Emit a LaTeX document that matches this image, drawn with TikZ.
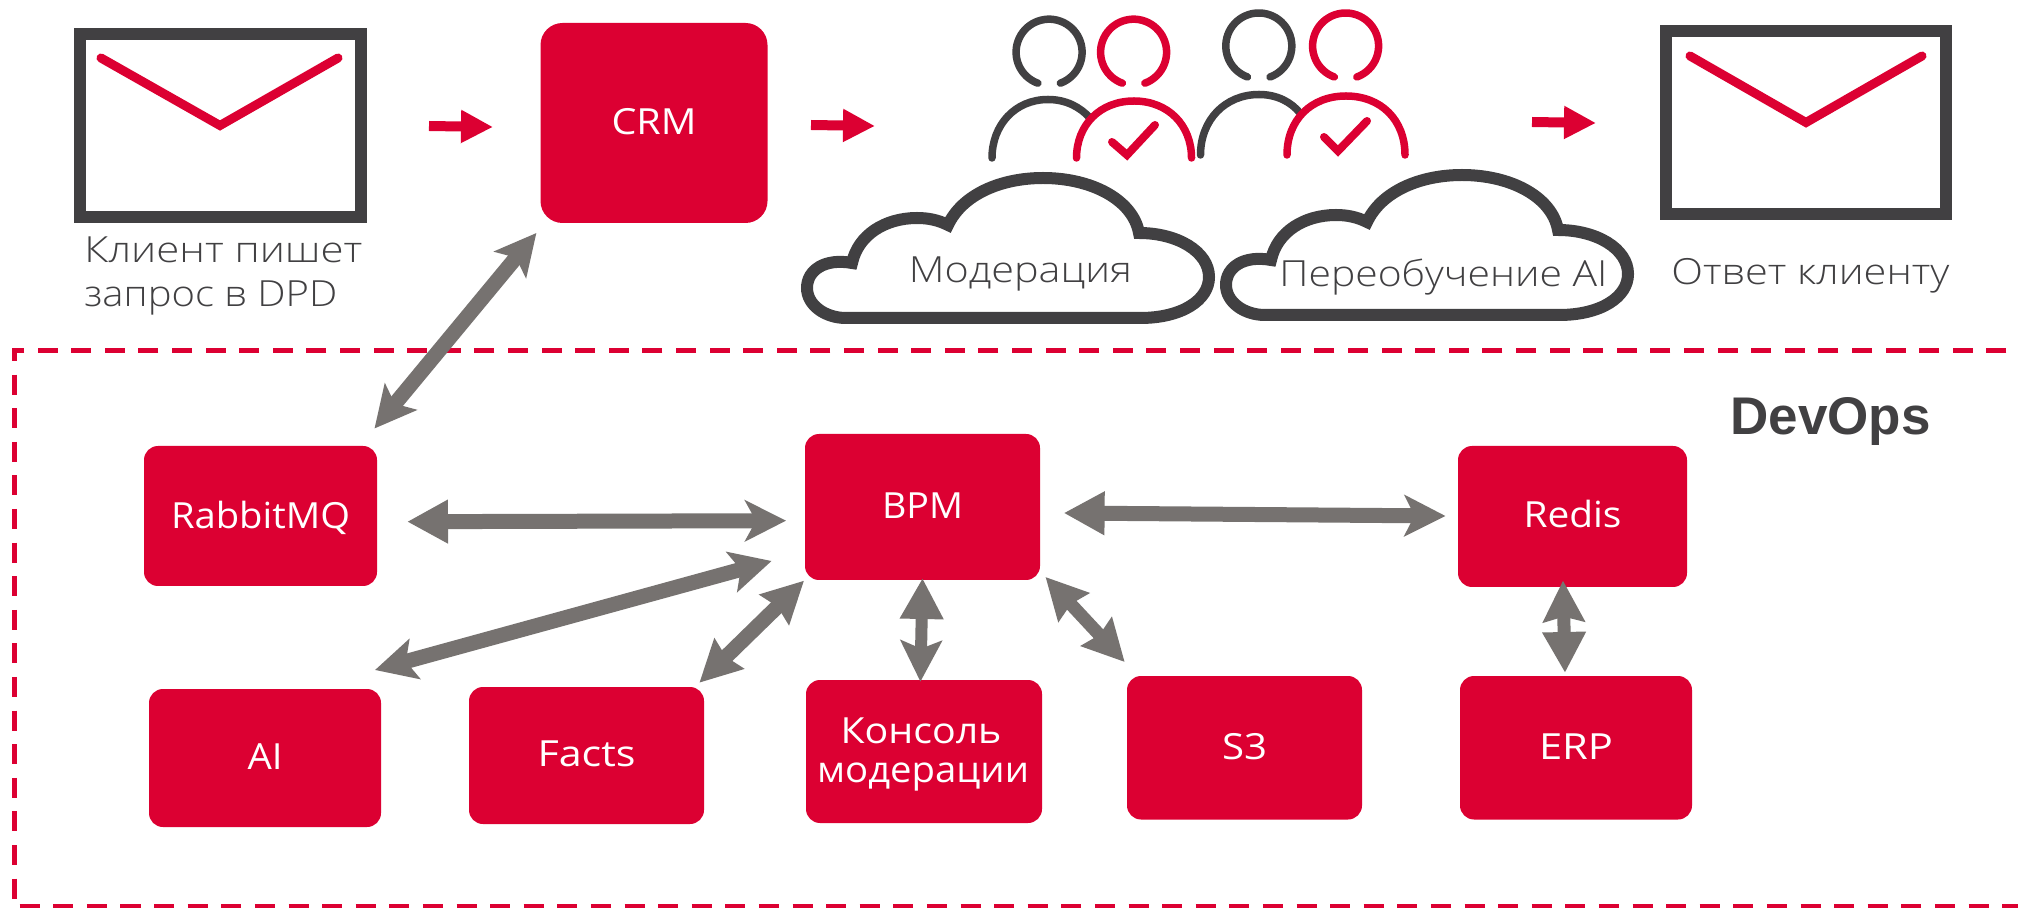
\documentclass[tikz,border=0pt]{standalone}
\usepackage{fontspec}
\usepackage{graphicx}
\setmainfont{Open Sans}
\newfontfamily\lightfont{Open Sans Light}
\newfontfamily\boldfont{Liberation Sans Bold}
\usetikzlibrary{arrows.meta}
\definecolor{dpdred}{HTML}{DC0032}
\definecolor{dpddark}{HTML}{414042}
\definecolor{dpdgrey}{HTML}{767270}
\newbox\fitbox
\newdimen\fitdim
\newcommand\fitw[2]{\setbox\fitbox\hbox{#2}\fitdim=\wd\fitbox\pgfmathsetmacro\fitr{(#1*0.5)/(\fitdim/1pt)}\scalebox{\fitr}[1]{\box\fitbox}}
\tikzset{
  redbox/.style={fill=dpdred,draw=none,rounded corners=7pt,inner sep=0pt,text=white,text height=0pt,text depth=0pt,font=\fontsize{18}{20}\selectfont},
  darktext/.style={anchor=base west,inner sep=0pt,text=dpddark,font=\lightfont\fontsize{18}{20}\selectfont},
  envelope/.style={draw=dpddark,line width=6pt,inner sep=0pt},
  flap/.style={draw=dpdred,line width=4.5pt,line cap=round,line join=miter},
  tick/.style={draw=dpdred,line width=4pt,line cap=round,line join=miter},
  redarrow/.style={draw=dpdred,line width=5pt,-{Triangle[length=16pt,width=15.5pt]}},
  dbl/.style n args={2}{draw=dpdgrey,line width=7.5pt,arrows={Stealth[length=20.5pt,width=20.5pt,inset=#1]-Stealth[length=20.5pt,width=20.5pt,inset=#2]}},
  head/.style={line width=3.75pt,line cap=round},
  bodyline/.style={line width=3.75pt,line cap=round},
  cloudline/.style={draw=dpddark,line width=6pt,line join=miter,fill=white},
  frame/.style={draw=dpdred,line width=2.5pt,dash pattern=on 10pt off 6.8pt}
}
\newcommand\rbox[9][]{\pgfmathsetmacro\rr{((#3+#5)/2-#6)/2-0.75}\node[redbox,#1,minimum width={(#4-#2)*0.5pt},minimum height={(#5-#3)*0.5pt}] (#9) at ({(#2+#4)/2},{(#3+#5)/2}) {\raisebox{\rr pt}{\makebox[0pt]{\fitw{#7}{#8}}}};}
\newcommand\headarc[4]{\draw[head,draw=#4] ({#1-11.5},{#2+#3}) arc[start angle=250,end angle=-70,radius=16.5pt];}
\newcommand\cloudpath{(846,318) -- (1140,318)
  .. controls (1182,318) and (1209,300) .. (1209,277)
  .. controls (1209,252) and (1178,233) .. (1139,233)
  .. controls (1133,200) and (1092,178) .. (1043,178)
  .. controls (1000,178) and (962,195) .. (948,225)
  .. controls (938,220) and (928,218) .. (917,218)
  .. controls (885,218) and (858,235) .. (852,263)
  .. controls (825,258) and (807,270) .. (807,288)
  .. controls (807,305) and (825,318) .. (846,318) -- cycle}
\begin{document}
\begin{tikzpicture}[x=0.5pt,y=-0.5pt]
\useasboundingbox (0,0) rectangle (2018,908);
\clip (0,0) rectangle (2018,908);
\fill[white] (0,0) rectangle (2018,908);
% frame
\draw[frame] (2040,351) -- (14,351) -- (14,906.5) -- (2040,906.5);
% envelopes
\node[envelope,minimum width=140.25pt,minimum height=91.25pt] (mailin) at (220.25,125.5) {};
\draw[flap] (101,58) -- (220,125.5) -- (338,58);
\node[envelope,minimum width=140pt,minimum height=91.5pt] (mailout) at (1806,122.5) {};
\draw[flap] (1690,56) -- (1806,122.5) -- (1922,56);
% top texts
\node[darktext] (t1) at (84,263) {\fitw{278}{Клиент пишет}};
\node[darktext] (t2) at (84,307) {\fitw{253}{запрос в DPD}};
\node[darktext] (t3) at (1671,285) {\fitw{278}{Ответ клиенту}};
% CRM
\rbox[rounded corners=11pt]{540.5}{23}{767.5}{223}{133}{85}{CRM}{crm}
% red arrows
\coordinate (a1s) at (429,126);\coordinate (a1e) at (493,127);
\coordinate (a2s) at (811,125);\coordinate (a2e) at (875,126);
\coordinate (a3s) at (1532,122);\coordinate (a3e) at (1596,123);
\draw[redarrow] (a1s) -- (a1e);
\draw[redarrow] (a2s) -- (a2e);
\draw[redarrow] (a3s) -- (a3e);
% people 1
\headarc{1049.3}{52.2}{31}{dpddark}
\headarc{1133.8}{52.2}{31}{dpdred}
\draw[bodyline,draw=dpddark] (992,158) .. controls (992,125) and (1015,99.5) .. (1048,99.5) .. controls (1066,99.5) and (1080,107) .. (1090,118);
\draw[bodyline,draw=dpdred] (1076.5,158) .. controls (1076.5,125) and (1100,101) .. (1134,101) .. controls (1168,101) and (1191.5,125) .. (1191.5,158);
\draw[tick] (1112,142) -- (1127,155) -- (1155,125);
% people 2
\headarc{1259}{45}{32}{dpddark}
\headarc{1345.8}{45}{32}{dpdred}
\draw[bodyline,draw=dpddark] (1200.5,155) .. controls (1200.5,120) and (1225,94.5) .. (1259,94.5) .. controls (1277,94.5) and (1291,102) .. (1300,113);
\draw[bodyline,draw=dpdred] (1287,155) .. controls (1287,120) and (1311,96) .. (1346,96) .. controls (1381,96) and (1405,120) .. (1405,155);
\draw[tick] (1324,137) -- (1338,151) -- (1367,121);
% clouds
\draw[cloudline] \cloudpath;
\begin{scope}[shift={(419,-3)}]
\draw[cloudline] \cloudpath;
\end{scope}
\node[darktext] (t4) at (908.5,283) {\fitw{223}{Модерация}};
\node[darktext] (t5) at (1279,287) {\fitw{328}{Переобучение AI}};
% DevOps
\node[anchor=base west,inner sep=0pt,text=dpddark,font=\boldfont\fontsize{26.5}{30}\selectfont] (devops) at (1730,435) {DevOps};
% boxes
\rbox{144}{446}{377}{586}{526.7}{179}{RabbitMQ}{rabbit}
\rbox{805}{434}{1040}{580}{516.7}{81}{BPM}{bpm}
\rbox{149}{689}{381}{827}{767.7}{35}{AI}{ai}
\rbox{469}{687}{704}{824}{765}{98}{Facts}{facts}
\rbox{1458}{446}{1687}{587}{526}{98}{Redis}{redis}
\rbox{1127}{676}{1362}{819.5}{757.6}{45}{S3}{sthree}
\rbox{1460}{676}{1692}{819.5}{757.6}{74}{ERP}{erp}
\node[redbox,minimum width=118pt,minimum height=71.5pt] (console) at (924,751.5) {\raisebox{4.2pt}{\makebox[0pt]{\hspace{-3pt}\fitw{161}{Консоль}}}\raisebox{-15.4pt}{\makebox[0pt]{\hspace{-1pt}\fitw{212}{модерации}}}};
% grey arrows
\coordinate (crmA) at (536.4,233);\coordinate (crmB) at (374.5,428.5);
\coordinate (rbA) at (407,521.7);\coordinate (rbB) at (786,520.7);
\coordinate (brA) at (1063.6,513);\coordinate (brB) at (1445.5,516);
\coordinate (abA) at (375,670);\coordinate (abB) at (771.6,561);
\coordinate (fbA) at (699.4,682.7);\coordinate (fbB) at (804,580.7);
\coordinate (bcA) at (922.5,578);\coordinate (bcB) at (920.4,681.7);
\coordinate (bsA) at (1045.5,577);\coordinate (bsB) at (1124.7,662);
\coordinate (reA) at (1563,580.6);\coordinate (reB) at (1565,673);
\draw[dbl={4.5pt}{4.5pt}] (crmB) -- (crmA);
\draw[dbl={0pt}{5.5pt}] (rbA) -- (rbB);
\draw[dbl={0pt}{5pt}] (brA) -- (brB);
\draw[dbl={4.5pt}{4.5pt}] (abA) -- (abB);
\draw[dbl={2pt}{2pt}] (fbA) -- (fbB);
\draw[dbl={0pt}{4pt},line width=6pt] (bcA) -- (bcB);
\draw[dbl={2pt}{2pt},line width=6.5pt] (bsA) -- (bsB);
\draw[dbl={2.5pt}{0pt},line width=6.5pt] (reA) -- (reB);
\end{tikzpicture}
\end{document}
